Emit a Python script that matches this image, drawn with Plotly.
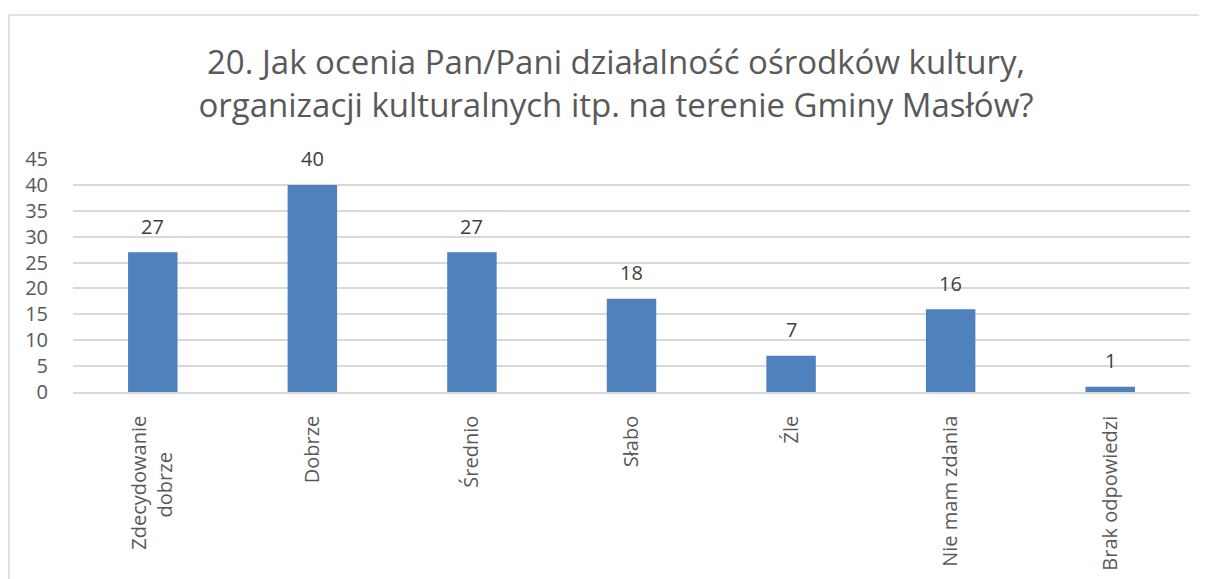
import plotly.graph_objects as go

NB = "\u00a0"
categories = ["Zdecydowanie<br>dobrze" + NB * 7, "Dobrze", "Średnio", "Słabo", "Źle", "Nie mam zdania", "Brak odpowiedzi"]
values = [27, 40, 27, 18, 7, 16, 1]
y_ticks = [0, 5, 10, 15, 20, 25, 30, 35, 40, 45]
title_text = "20. Jak ocenia Pan/Pani działalność ośrodków kultury,<br>organizacji kulturalnych itp. na terenie Gminy Masłów?"

OFF = 8  # page body margin
W, H = 1207 - OFF, 579 - OFF
L, R = 73 - OFF, W - (1190 - OFF)
T, B = 159 - OFF, H - (392 - OFF)
pw, ph = W - L - R, H - T - B

fig = go.Figure(go.Bar(
    x=categories, y=values,
    marker=dict(color="#4F81BD", line=dict(width=0)),
    hoverinfo="x+y",
))

for c, v in zip(categories, values):
    fig.add_annotation(x=c, y=v, text=str(v), showarrow=False, yanchor="middle",
                       yshift=26, font=dict(size=20, color="#404040", family="Open Sans"))

def px_x(p):
    return (p - OFF - L) / pw

def px_y(p):
    return (H - B - (p - OFF)) / ph

frame = dict(color="#D9D9D9", width=1.5)
fig.add_shape(type="line", xref="paper", yref="paper",
              x0=px_x(9), x1=px_x(9), y0=px_y(700), y1=px_y(15), line=frame, layer="below")
fig.add_shape(type="line", xref="paper", yref="paper",
              x0=px_x(9), x1=px_x(1300), y0=px_y(15), y1=px_y(15), line=frame, layer="below")

fig.update_layout(
    width=W, height=H,
    margin=dict(l=L, r=R, t=T, b=B, autoexpand=False),
    paper_bgcolor="white", plot_bgcolor="white",
    title=dict(text=title_text, x=(616 - OFF) / W, xanchor="center", y=1 - 66 / H, yanchor="middle",
               font=dict(size=33, color="#595959", family="Open Sans")),
    bargap=0.69,
    showlegend=False,
    font=dict(family="Open Sans", color="#595959"),
    xaxis=dict(tickangle=-90, tickfont=dict(size=20, color="#595959"), showline=True,
               linecolor="#D9D9D9", linewidth=1.5, ticks="", showgrid=False,
               ticklabelstandoff=14),
    yaxis=dict(range=[0, 45], tickvals=y_ticks, tickfont=dict(size=20, color="#595959"),
               showgrid=True, gridcolor="#D9D9D9", gridwidth=1.5, zeroline=False,
               showline=False, ticks="", ticklabelstandoff=24),
)

fig.write_html("out.html")
